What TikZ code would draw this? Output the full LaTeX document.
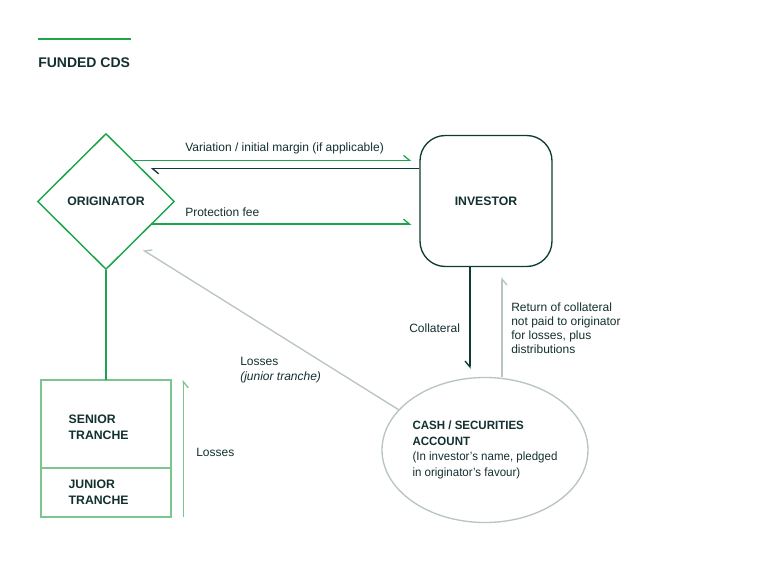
\documentclass[tikz,border=0pt]{standalone}
\usepackage{fontspec}
\setmainfont{Liberation Sans}
\newfontfamily\acctfont{Liberation Sans}[FakeStretch=0.96]
\usetikzlibrary{arrows.meta,shapes.geometric,positioning,calc}
\definecolor{cdsgreen}{HTML}{1DA54B}
\definecolor{cdslight}{HTML}{7BC68E}
\definecolor{cdsdark}{HTML}{0F3B35}
\definecolor{cdsgrey}{HTML}{B7C4C0}
\definecolor{cdstext}{HTML}{12302F}

\begin{document}
\begin{tikzpicture}[x=0.75pt,y=-0.75pt,
        every node/.style={font=\fontsize{9}{11.5}\selectfont, text=cdstext},
        head/.style={font=\fontsize{9.2}{12}\selectfont\bfseries},
        tranche/.style={draw=cdslight, line width=1.5pt, outer sep=0pt, text width=56pt, inner xsep=21pt, align=left, head},
        lbl/.style={anchor=west, align=left, inner sep=0pt},
        flow/.style={line width=1pt},
        barbL/.style={-{Straight Barb[left,length=4.5pt,width=7.5pt]}},
        barbR/.style={-{Straight Barb[right,length=4.5pt,width=7.5pt]}}]
            \useasboundingbox (0,0) rectangle (765,570);

            \draw[cdsgreen, line width=2.2pt] (38,39) -- (131,39);
            \node[lbl, font=\fontsize{10.5}{12}\selectfont\bfseries] (title) at (38,63) {FUNDED CDS};

            \node[diamond, draw=cdsgreen, line width=1.1pt, minimum width=102.75pt, minimum height=102pt, inner sep=0pt, head] (orig) at (106,201.5) {ORIGINATOR};
            \node[draw=cdsdark, line width=1pt, rounded corners=19pt, minimum width=99pt, minimum height=98.25pt, head] (inv) at (486,201) {INVESTOR};

            \node[tranche, minimum height=66pt] (sen) at (106,424) {\rule{0pt}{12pt}SENIOR\\TRANCHE};
            \node[tranche, minimum height=36.75pt, below=0pt of sen] (jun) {JUNIOR\\TRANCHE};

            \node[ellipse, draw=cdsgrey, line width=1pt, minimum width=154.5pt, minimum height=108.75pt, inner sep=0pt, align=left, font=\acctfont\fontsize{9}{11.6}\selectfont] (acct) at (485,450) {\textbf{CASH / SECURITIES}\\\textbf{ACCOUNT}\\(In investor’s name, pledged\\in originator’s favour)};

            % margin and fee
            \draw[flow, cdsgreen, barbL, shorten >=6pt] (orig.56.6) -- (orig.56.6 -| inv.west);
            \draw[flow, cdsdark, barbL, shorten >=6.4pt] (inv.west |- orig.42.9) -- (orig.42.9);
            \draw[flow, cdsgreen, barbL, shorten >=6pt] (orig.334.8) -- (orig.334.8 -| inv.west);
            \node[lbl] (marginlbl) at (185,148) {Variation / initial margin (if applicable)};
            \node[lbl] (feelbl) at (185,212) {Protection fee};

            % collateral
            \coordinate (colltop) at ($(inv.south)+(-16,0)$);
            \draw[flow, cdsdark, barbR, shorten >=6pt] (colltop) -- (colltop |- acct.north);
            \node[lbl] (colllbl) at (409,328) {Collateral};

            \coordinate (retfoot) at ($(acct.north)+(17,0)$);
            \draw[flow, cdsgrey, barbR, shorten >=7.5pt] (retfoot) -- (retfoot |- inv.south);
            \node[lbl, font=\fontsize{9}{10.5}\selectfont] (retlbl) at (511,328) {Return of collateral\\not paid to originator\\for losses, plus\\distributions};

            % losses
            \draw[cdsgreen, line width=2pt] (orig.south) -- (sen.north);

            \coordinate (lossfoot) at ($(jun.south east)+(12,0)$);
            \draw[flow, cdslight, barbR] (lossfoot) -- (lossfoot |- sen.north);
            \node[lbl] (losslbl) at (196,452) {Losses};

            \coordinate (losstip) at (143,250);
            \draw[flow, cdsgrey, barbR] (acct.155.5) -- (losstip);
            \node[lbl] (juniorlbl) at (240,370) {Losses\\\textit{(junior tranche)}};
\end{tikzpicture}
\end{document}
